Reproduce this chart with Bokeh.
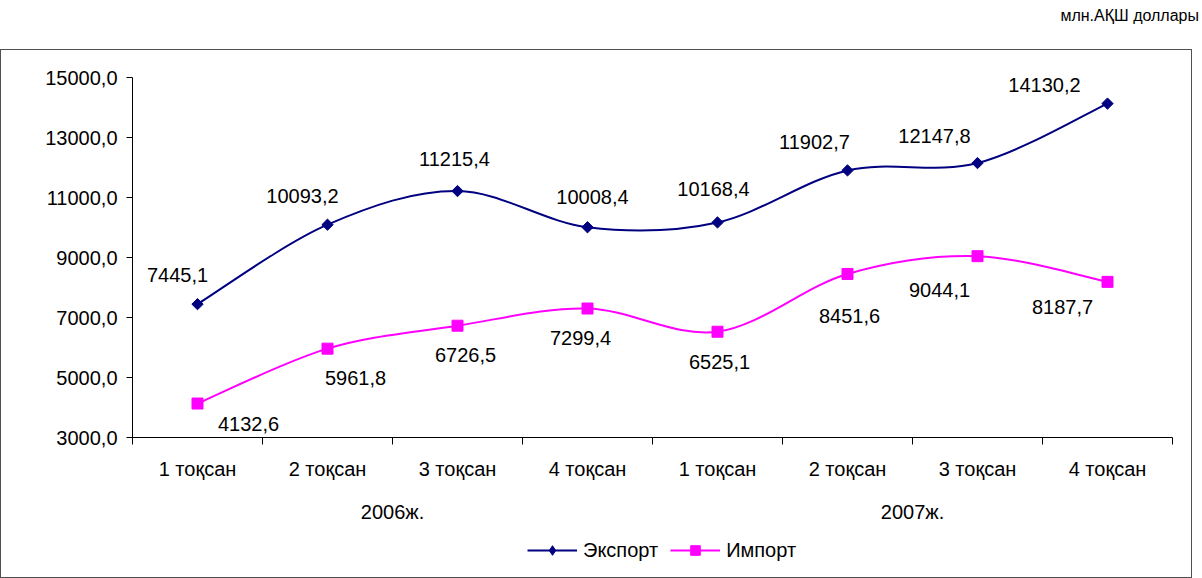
from bokeh.plotting import figure
from bokeh.models import (Range1d, FixedTicker, LinearAxis, CustomJSTickFormatter,
                          Legend, LegendItem, Div, ColumnDataSource)
from bokeh.layouts import column
from bokeh.core.properties import value
from bokeh.embed import file_html
from bokeh.resources import INLINE
import math

# ---------------- data ----------------
quarters = ["1 тоқсан", "2 тоқсан", "3 тоқсан", "4 тоқсан",
            "1 тоқсан", "2 тоқсан", "3 тоқсан", "4 тоқсан"]
years = ["2006ж.", "2007ж."]
export_vals = [7445.1, 10093.2, 11215.4, 10008.4, 10168.4, 11902.7, 12147.8, 14130.2]
import_vals = [4132.6, 5961.8, 6726.5, 7299.4, 6525.1, 8451.6, 9044.1, 8187.7]
export_labels = ["7445,1", "10093,2", "11215,4", "10008,4", "10168,4", "11902,7", "12147,8", "14130,2"]
import_labels = ["4132,6", "5961,8", "6726,5", "7299,4", "6525,1", "8451,6", "9044,1", "8187,7"]
y_ticks = [3000, 5000, 7000, 9000, 11000, 13000, 15000]
series_names = ["Экспорт", "Импорт"]
unit_title = "млн.АҚШ доллары"

# label pixel offsets (style)
exp_dx = [-20, -25, -3, 5, -4, -33, -43, -63]
exp_dy = [-29, -29, -32, -30, -33, -28, -27, -19]
imp_dx = [51, 28, 8, -7, 2, 2, -38, -45]
imp_dy = [20, 29, 29, 29, 30, 42, 34, 25]

FONT = "Liberation Sans"
NAVY = "#000080"
MAGENTA = "#FF00FF"

xs = list(range(len(quarters)))


def smooth_segments(x, y):
    n = len(x)
    seg = dict(x0=[], y0=[], x1=[], y1=[], cx0=[], cy0=[], cx1=[], cy1=[])
    for i in range(n - 1):
        p0 = (x[i - 1], y[i - 1]) if i > 0 else (x[i], y[i])
        p1 = (x[i], y[i])
        p2 = (x[i + 1], y[i + 1])
        p3 = (x[i + 2], y[i + 2]) if i + 2 < n else (x[i + 1], y[i + 1])
        seg["x0"].append(p1[0]); seg["y0"].append(p1[1])
        seg["x1"].append(p2[0]); seg["y1"].append(p2[1])
        seg["cx0"].append(p1[0] + (p2[0] - p0[0]) / 6.0)
        seg["cy0"].append(p1[1] + (p2[1] - p0[1]) / 6.0)
        seg["cx1"].append(p2[0] - (p3[0] - p1[0]) / 6.0)
        seg["cy1"].append(p2[1] - (p3[1] - p1[1]) / 6.0)
    return seg


p = figure(width=1190, height=483, output_backend="svg", toolbar_location=None,
           x_range=Range1d(-0.5, 7.5), y_range=Range1d(3000, 15000),
           x_axis_type=None, y_axis_type=None,
           min_border_left=131, min_border_right=19, min_border_top=27, min_border_bottom=96)
p.outline_line_color = None
p.background_fill_color = "white"
p.border_fill_color = "white"

# y axis
yax = LinearAxis(ticker=FixedTicker(ticks=y_ticks, minor_ticks=[]))
yax.major_label_overrides = {t: f"{t},0" for t in y_ticks}
yax.major_tick_out = 6
yax.major_tick_in = 0
yax.minor_tick_out = 0
yax.major_label_standoff = 9
yax.major_label_text_font = FONT
yax.major_label_text_font_size = "20px"
yax.major_label_text_color = "black"
yax.axis_line_color = "black"
yax.major_tick_line_color = "black"
p.add_layout(yax, "left")

# x axis: quarter labels with ticks on category boundaries
xax = LinearAxis(ticker=FixedTicker(ticks=xs, minor_ticks=[i - 0.5 for i in range(len(quarters) + 1)]))
xax.major_label_overrides = {i: q for i, q in enumerate(quarters)}
xax.major_tick_out = 0
xax.major_tick_in = 0
xax.minor_tick_out = 7
xax.minor_tick_in = 0
xax.minor_tick_line_color = "black"
xax.major_label_standoff = 13
xax.major_label_text_font = FONT
xax.major_label_text_font_size = "20px"
xax.major_label_text_color = "black"
xax.axis_line_color = "black"
p.add_layout(xax, "below")

# year axis
yrax = LinearAxis(ticker=FixedTicker(ticks=[1.5, 5.5], minor_ticks=[]),
                  formatter=CustomJSTickFormatter(args=dict(years=years),
                                                  code="return tick < 3.5 ? years[0] : years[1];"))
yrax.axis_line_color = None
yrax.major_tick_line_color = None
yrax.minor_tick_line_color = None
yrax.major_tick_out = 0
yrax.major_tick_in = 0
yrax.major_label_standoff = 18
yrax.major_label_text_font = FONT
yrax.major_label_text_font_size = "20px"
yrax.major_label_text_color = "black"
p.add_layout(yrax, "below")

# series
exp_seg = ColumnDataSource(smooth_segments(xs, export_vals))
imp_seg = ColumnDataSource(smooth_segments(xs, import_vals))
p.bezier(x0="x0", y0="y0", x1="x1", y1="y1", cx0="cx0", cy0="cy0",
         cx1="cx1", cy1="cy1", source=exp_seg, line_color=NAVY, line_width=2)
p.bezier(x0="x0", y0="y0", x1="x1", y1="y1", cx0="cx0", cy0="cy0",
         cx1="cx1", cy1="cy1", source=imp_seg, line_color=MAGENTA, line_width=2)

p.scatter(xs, export_vals, marker="square", angle=math.pi / 4, size=8,
          fill_color=NAVY, line_color=NAVY)
p.scatter(xs, import_vals, marker="square", size=11,
          fill_color=MAGENTA, line_color=MAGENTA)

exp_src = ColumnDataSource(dict(x=xs, y=export_vals, t=export_labels, dx=exp_dx, dy=exp_dy))
imp_src = ColumnDataSource(dict(x=xs, y=import_vals, t=import_labels, dx=imp_dx, dy=imp_dy))
for src in (exp_src, imp_src):
    p.text(x="x", y="y", text="t", x_offset="dx", y_offset="dy", source=src,
           text_font=value(FONT), text_font_size="20px", text_color="black",
           text_align="center", text_baseline="middle")

# legend strip: a small figure whose y range lies outside the data, so only the legend shows
lg = figure(width=1190, height=44, output_backend="svg", toolbar_location=None,
            x_axis_type=None, y_axis_type=None, min_border=0,
            x_range=Range1d(-0.5, 7.5), y_range=Range1d(-2, -1))
lg.outline_line_color = None
lg.xgrid.visible = False
lg.ygrid.visible = False
le_line = lg.line(x=xs, y=export_vals, line_color=NAVY, line_width=2)
le_pts = lg.scatter(x=xs, y=export_vals, marker="diamond", size=12,
                    fill_color=NAVY, line_color=NAVY)
li_line = lg.line(x=xs, y=import_vals, line_color=MAGENTA, line_width=2)
li_pts = lg.scatter(x=xs, y=import_vals, marker="square", size=11,
                    fill_color=MAGENTA, line_color=MAGENTA)
legend = Legend(items=[LegendItem(label=series_names[0], renderers=[le_line, le_pts]),
                       LegendItem(label=series_names[1], renderers=[li_line, li_pts])],
                orientation="horizontal", location=(395, 15),
                border_line_color=None, background_fill_alpha=0,
                glyph_width=50, glyph_height=24, label_text_font=FONT,
                label_text_font_size="20px", label_text_color="black",
                label_standoff=6, spacing=12, padding=0, margin=0)
lg.add_layout(legend, "center")

box = column(p, lg, styles={"border": "1px solid #505050"})

div = Div(text=unit_title, width=1194, height=39,
          styles={"text-align": "right", "font-family": FONT, "font-size": "16px",
                  "color": "black", "white-space": "nowrap"})

layout = column(div, box)
open("out.html", "w").write(file_html(layout, INLINE))
